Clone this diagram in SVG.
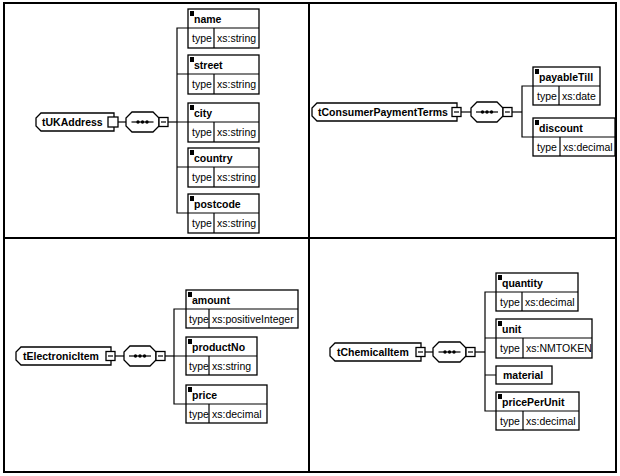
<svg xmlns="http://www.w3.org/2000/svg" width="620" height="476" viewBox="0 0 620 476">
<style>
.fr{fill:none;stroke:#000;stroke-width:2}
.bx{fill:#fff;stroke:#000;stroke-width:1.3}
.ln{stroke:#000;stroke-width:1.2;fill:none}
.mk{fill:#000}
.t{font-family:"Liberation Sans",Arial,sans-serif;font-size:10.5px;font-weight:bold;fill:#000}
.r{font-family:"Liberation Sans",Arial,sans-serif;font-size:10.5px;fill:#000}
</style>
<defs>
<g id="dots"><line class="ln" x1="-11" y1="0" x2="11" y2="0"/><circle cx="-4.5" cy="0" r="1.7"/><circle cx="0" cy="0" r="1.7"/><circle cx="4.5" cy="0" r="1.7"/></g>
<g id="minus"><rect class="bx" x="0" y="0" width="9" height="9"/><line class="ln" x1="2" y1="4.5" x2="7" y2="4.5"/></g>
</defs>
<rect fill="#fff" x="0" y="0" width="620" height="476"/>
<g id="frame">
<rect class="fr" x="4" y="3" width="612" height="469"/>
<line class="fr" x1="309" y1="3" x2="309" y2="472"/>
<line class="fr" x1="4" y1="238" x2="616" y2="238"/>
</g>
<g id="connectors">
<line class="ln" x1="118" y1="122" x2="126" y2="122"/>
<line class="ln" x1="168" y1="122" x2="177" y2="122"/>
<path class="ln" d="M188 28H177V213H188M177 74H188M177 122H188M177 167H188"/>
<line class="ln" x1="461" y1="112" x2="471" y2="112"/>
<line class="ln" x1="512" y1="112" x2="522" y2="112"/>
<path class="ln" d="M533 86H522V137H533"/>
<line class="ln" x1="115" y1="356" x2="124" y2="356"/>
<line class="ln" x1="165" y1="356" x2="174" y2="356"/>
<path class="ln" d="M186 309H174V404H186M174 356H186"/>
<line class="ln" x1="425" y1="352" x2="433" y2="352"/>
<line class="ln" x1="475" y1="352" x2="485" y2="352"/>
<path class="ln" d="M496 292H485V411H496M485 338H496M485 375H496"/>
</g>
<g id="tUKAddress">
<path class="bx" d="M41 113H114V131H41L36 126V118Z"/>
<text class="t" x="42" y="126">tUKAddress</text>
<rect class="bx" x="108" y="117" width="10" height="10"/>
</g>
<g id="seq1">
<path class="bx" d="M132 112H153L159 118V126L153 132H132L126 126V118Z"/>
<use href="#dots" x="142.5" y="122"/>
<use href="#minus" x="159" y="117.5"/>
</g>
<g id="el-name">
<rect class="bx" x="188" y="9" width="71" height="39"/><path class="ln" d="M188 28H259M214 28V48"/>
<rect class="mk" x="190" y="11" width="4" height="5"/>
<text class="t" x="194" y="22.5">name</text><text class="r" x="192" y="42">type</text><text class="r" x="217" y="42">xs:string</text>
</g>
<g id="el-street">
<rect class="bx" x="188" y="55" width="71" height="39"/><path class="ln" d="M188 74H259M214 74V94"/>
<rect class="mk" x="190" y="57" width="4" height="5"/>
<text class="t" x="194" y="68.5">street</text><text class="r" x="192" y="88">type</text><text class="r" x="217" y="88">xs:string</text>
</g>
<g id="el-city">
<rect class="bx" x="188" y="103" width="71" height="39"/><path class="ln" d="M188 122H259M214 122V142"/>
<rect class="mk" x="190" y="105" width="4" height="5"/>
<text class="t" x="194" y="116.5">city</text><text class="r" x="192" y="136">type</text><text class="r" x="217" y="136">xs:string</text>
</g>
<g id="el-country">
<rect class="bx" x="188" y="148" width="71" height="39"/><path class="ln" d="M188 167H259M214 167V187"/>
<rect class="mk" x="190" y="150" width="4" height="5"/>
<text class="t" x="194" y="161.5">country</text><text class="r" x="192" y="181">type</text><text class="r" x="217" y="181">xs:string</text>
</g>
<g id="el-postcode">
<rect class="bx" x="188" y="194" width="71" height="39"/><path class="ln" d="M188 213H259M214 213V233"/>
<rect class="mk" x="190" y="196" width="4" height="5"/>
<text class="t" x="194" y="207.5">postcode</text><text class="r" x="192" y="227">type</text><text class="r" x="217" y="227">xs:string</text>
</g>
<g id="tConsumerPaymentTerms">
<path class="bx" d="M317 103H457V121H317L312 116V108Z"/>
<text class="t" x="318" y="116">tConsumerPaymentTerms</text>
<use href="#minus" x="452" y="107.5"/>
</g>
<g id="seq2">
<path class="bx" d="M477 102H497L503 108V116L497 122H477L471 116V108Z"/>
<use href="#dots" x="487" y="112"/>
<use href="#minus" x="503" y="107.5"/>
</g>
<g id="el-payableTill">
<rect class="bx" x="533" y="67" width="67" height="38"/><path class="ln" d="M533 86H600M559 86V105"/>
<rect class="mk" x="535" y="69" width="4" height="5"/>
<text class="t" x="539" y="80.5">payableTill</text><text class="r" x="537" y="99.5">type</text><text class="r" x="562" y="99.5">xs:date</text>
</g>
<g id="el-discount">
<rect class="bx" x="533" y="118" width="82" height="38"/><path class="ln" d="M533 137H615M560 137V156"/>
<rect class="mk" x="535" y="120" width="4" height="5"/>
<text class="t" x="539" y="131.5">discount</text><text class="r" x="537" y="150.5">type</text><text class="r" x="563" y="150.5">xs:decimal</text>
</g>
<g id="tElectronicItem">
<path class="bx" d="M21 347H111V365H21L16 360V352Z"/>
<text class="t" x="23" y="360">tElectronicItem</text>
<use href="#minus" x="106" y="351.5"/>
</g>
<g id="seq3">
<path class="bx" d="M130 346H150L156 352V360L150 366H130L124 360V352Z"/>
<use href="#dots" x="140" y="356"/>
<use href="#minus" x="156" y="351.5"/>
</g>
<g id="el-amount">
<rect class="bx" x="186" y="290" width="112" height="38"/><path class="ln" d="M186 309H298M209 309V328"/>
<rect class="mk" x="188" y="292" width="4" height="5"/>
<text class="t" x="192" y="303.5">amount</text><text class="r" x="189" y="322.5">type</text><text class="r" x="212" y="322.5">xs:positiveInteger</text>
</g>
<g id="el-productNo">
<rect class="bx" x="186" y="337" width="71" height="38"/><path class="ln" d="M186 356H257M209 356V375"/>
<rect class="mk" x="188" y="339" width="4" height="5"/>
<text class="t" x="192" y="350.5">productNo</text><text class="r" x="189" y="369.5">type</text><text class="r" x="212" y="369.5">xs:string</text>
</g>
<g id="el-price">
<rect class="bx" x="186" y="385" width="81" height="38"/><path class="ln" d="M186 404H267M209 404V423"/>
<rect class="mk" x="188" y="387" width="4" height="5"/>
<text class="t" x="192" y="398.5">price</text><text class="r" x="189" y="417.5">type</text><text class="r" x="212" y="417.5">xs:decimal</text>
</g>
<g id="tChemicalItem">
<path class="bx" d="M335 343H421V361H335L330 356V348Z"/>
<text class="t" x="337" y="356">tChemicalItem</text>
<use href="#minus" x="416" y="347.5"/>
</g>
<g id="seq4">
<path class="bx" d="M439 342H460L466 348V356L460 362H439L433 356V348Z"/>
<use href="#dots" x="449.5" y="352"/>
<use href="#minus" x="466" y="347.5"/>
</g>
<g id="el-quantity">
<rect class="bx" x="496" y="273" width="82" height="38"/><path class="ln" d="M496 292H578M522 292V311"/>
<rect class="mk" x="498" y="275" width="4" height="5"/>
<text class="t" x="502" y="286.5">quantity</text><text class="r" x="500" y="305.5">type</text><text class="r" x="525" y="305.5">xs:decimal</text>
</g>
<g id="el-unit">
<rect class="bx" x="496" y="319" width="96" height="39"/><path class="ln" d="M496 338H592M523 338V358"/>
<rect class="mk" x="498" y="321" width="4" height="5"/>
<text class="t" x="502" y="332.5">unit</text><text class="r" x="500" y="352">type</text><text class="r" x="526" y="352">xs:NMTOKEN</text>
</g>
<g id="el-material">
<rect class="bx" x="496" y="366" width="56" height="18"/>
<text class="t" x="503" y="379">material</text>
</g>
<g id="el-pricePerUnit">
<rect class="bx" x="496" y="392" width="83" height="38"/><path class="ln" d="M496 411H579M523 411V430"/>
<rect class="mk" x="498" y="394" width="4" height="5"/>
<text class="t" x="502" y="405.5">pricePerUnit</text><text class="r" x="500" y="424.5">type</text><text class="r" x="526" y="424.5">xs:decimal</text>
</g>
</svg>
